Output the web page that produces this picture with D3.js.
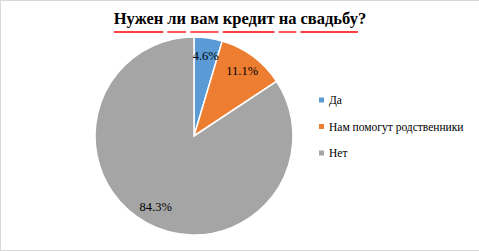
<!DOCTYPE html>
<html>
<head>
<meta charset="utf-8">
<script src="https://cdn.jsdelivr.net/npm/d3@7"></script>
<style>
  html, body { margin: 0; padding: 0; background: #fff; }
  svg { display: block; }
</style>
</head>
<body>
<svg id="chart" width="479" height="252"></svg>
<script>
// chart data
const categories = ["Да", "Нам помогут родственники", "Нет"];
const values = [4.6, 11.1, 84.3];
const colors = ["#5b9bd5", "#ed7d31", "#a5a5a5"];
const title = "Нужен ли вам кредит на свадьбу?";

const serif = '"Liberation Serif", "Times New Roman", serif';

const svg = d3.select("#chart");
const width = 479;
const height = 252;

// outer frame
svg.append("rect")
  .attr("x", 0.5)
  .attr("y", 0.5)
  .attr("width", width + 2)
  .attr("height", height - 2)
  .attr("fill", "#fff")
  .attr("stroke", "#d9d9d9");

// title
const titleText = svg.append("text")
  .attr("x", 240)
  .attr("y", 24)
  .attr("text-anchor", "middle")
  .style("font-family", serif)
  .style("font-weight", "bold")
  .style("font-size", "16.5px")
  .attr("fill", "#000")
  .text(title);

// red spell-check underlines beneath each word
const node = titleText.node();
const titleLeft = 240 - node.getComputedTextLength() / 2;
let pos = 0;
title.split(" ").forEach((w) => {
  const word = w.replace("?", "");
  const x0 = titleLeft + (pos > 0 ? node.getSubStringLength(0, pos) : 0);
  const x1 = titleLeft + node.getSubStringLength(0, pos + word.length);
  svg.append("line")
    .attr("x1", x0)
    .attr("x2", x1)
    .attr("y1", 32)
    .attr("y2", 32)
    .attr("stroke", "#ff0000")
    .attr("stroke-width", 1.3);
  pos += w.length + 1;
});

// pie
const cx = 194;
const cy = 136;
const radius = 99;

const pie = d3.pie().sort(null).value((d) => d);
const arc = d3.arc().innerRadius(0).outerRadius(radius);
const labelArc = d3.arc().innerRadius(81).outerRadius(81);

const g = svg.append("g").attr("transform", `translate(${cx},${cy})`);

const arcs = pie(values);

g.selectAll(".slice")
  .data(arcs)
  .enter()
  .append("path")
  .attr("class", "slice")
  .attr("d", arc)
  .attr("fill", (d, i) => colors[i])
  .attr("stroke", "#fff")
  .attr("stroke-width", 1.5);

g.selectAll(".slice-label")
  .data(arcs)
  .enter()
  .append("text")
  .attr("class", "slice-label")
  .attr("transform", (d) => `translate(${labelArc.centroid(d)})`)
  .attr("text-anchor", "middle")
  .attr("dominant-baseline", "central")
  .style("font-family", serif)
  .style("font-size", "12.5px")
  .attr("fill", "#000")
  .text((d) => `${d.data.toFixed(1)}%`);

// legend
const legendY = d3.scalePoint().domain(categories).range([100, 153]);

const legend = svg.selectAll(".legend")
  .data(categories)
  .enter()
  .append("g")
  .attr("class", "legend")
  .attr("transform", (d) => `translate(319,${legendY(d)})`);

legend.append("rect")
  .attr("x", 0)
  .attr("y", -2.5)
  .attr("width", 5)
  .attr("height", 5)
  .attr("fill", (d, i) => colors[i]);

legend.append("text")
  .attr("x", 10)
  .attr("y", 0)
  .attr("dominant-baseline", "central")
  .style("font-family", serif)
  .style("font-size", "11.5px")
  .attr("fill", "#000")
  .text((d) => d);
</script>
</body>
</html>
